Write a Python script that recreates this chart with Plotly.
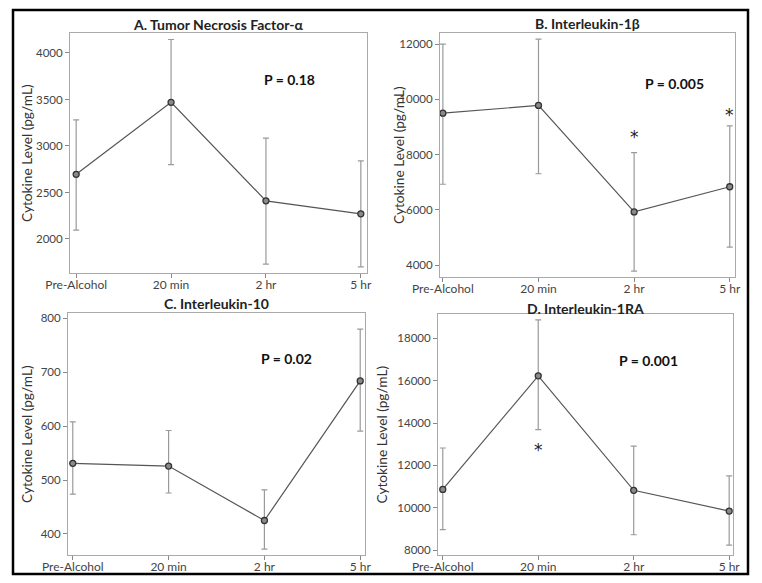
import plotly.graph_objects as go

W, H = 762, 583

categories = ["Pre-Alcohol", "20 min", "2 hr", "5 hr"]

titles = ["A. Tumor Necrosis Factor-α", "B. Interleukin-1β", "C. Interleukin-10", "D. Interleukin-1RA"]
p_labels = ["P = 0.18", "P = 0.005", "P = 0.02", "P = 0.001"]

tnf_mean = [2695, 3470, 2410, 2270]
tnf_low = [2095, 2800, 1730, 1700]
tnf_high = [3280, 4145, 3085, 2840]

il1b_mean = [9500, 9780, 5930, 6840]
il1b_low = [6930, 7310, 3790, 4660]
il1b_high = [12000, 12180, 8075, 9040]

il10_mean = [531, 526, 425, 684]
il10_low = [474, 476, 372, 591]
il10_high = [608, 592, 482, 780]

il1ra_mean = [10860, 16230, 10820, 9840]
il1ra_low = [8960, 13690, 8720, 8235]
il1ra_high = [12820, 18870, 12910, 11500]

y_ranges = [[1634, 4215], [3577, 12400], [361, 810], [7764, 19150]]
y_ticks = [[2000, 2500, 3000, 3500, 4000],
           [4000, 6000, 8000, 10000, 12000],
           [400, 500, 600, 700, 800],
           [8000, 10000, 12000, 14000, 16000, 18000]]
x_ranges = [[-0.065, 3.065], [-0.03, 3.055], [-0.05, 3.05], [-0.05, 3.04]]

p_pos = [(2.25, 3717), (2.42, 10590), (2.23, 726), (2.15, 16945)]

star_x = [[], [2, 3], [], [1]]
star_y = [[], [8650, 9440], [], [12720]]

# pixel boxes of plot areas: (left, top, right, bottom)
boxes = [(70, 33, 367, 273), (440, 33, 735, 277), (68, 313, 365, 555), (438, 314, 733, 555)]
ytitle_x = [26, 398, 26, 381]
title_y = [24, 23.5, 303, 308]

series = [(tnf_mean, tnf_low, tnf_high), (il1b_mean, il1b_low, il1b_high),
          (il10_mean, il10_low, il10_high), (il1ra_mean, il1ra_low, il1ra_high)]

fig = go.Figure()
FONT = "Lato, Open Sans, sans-serif"
annotations = []
for i, (mean, low, high) in enumerate(series):
    xa = "x" if i == 0 else f"x{i+1}"
    ya = "y" if i == 0 else f"y{i+1}"
    xs = list(range(len(categories)))
    fig.add_trace(go.Scatter(
        x=xs, y=mean, xaxis=xa, yaxis=ya, mode="lines+markers",
        line=dict(color="#555555", width=1.2),
        marker=dict(symbol="circle", size=6, color="#8a8a8a", line=dict(color="#333333", width=1.3)),
        error_y=dict(type="data", symmetric=False,
                     array=[h - m for h, m in zip(high, mean)],
                     arrayminus=[m - l for m, l in zip(mean, low)],
                     color="#9a9a9a", thickness=1.2, width=3),
        showlegend=False, hoverinfo="skip", cliponaxis=False))
    l, t, r, b = boxes[i]
    dx = [l / W, r / W]
    dy = [1 - b / H, 1 - t / H]
    axcommon = dict(showgrid=False, zeroline=False, showline=True, linecolor="#aaaaaa",
                    linewidth=1, mirror=True, ticks="outside", ticklen=4, tickcolor="#888888",
                    automargin=False)
    xkey = "xaxis" if i == 0 else f"xaxis{i+1}"
    ykey = "yaxis" if i == 0 else f"yaxis{i+1}"
    fig.update_layout(**{
        xkey: dict(domain=dx, anchor=ya, range=x_ranges[i], tickvals=xs, ticktext=categories,
                   ticklabelstandoff=-3,
                   tickfont=dict(family=FONT, size=12, color="#444444"), **axcommon),
        ykey: dict(domain=dy, anchor=xa, range=y_ranges[i], tickvals=y_ticks[i],
                   ticktext=[str(v) for v in y_ticks[i]],
                   tickfont=dict(family=FONT, size=11.5, color="#444444"), **axcommon),
    })
    # panel title
    annotations.append(dict(x=(l + r) / 2 / W, y=1 - title_y[i] / H, xref="paper", yref="paper",
                            text=f"<b>{titles[i]}</b>", showarrow=False, xanchor="center", yanchor="middle",
                            font=dict(family=FONT, size=14, color="#222222")))
    # y axis title
    annotations.append(dict(x=ytitle_x[i] / W, y=1 - (t + b) / 2 / H, xref="paper", yref="paper",
                            text="Cytokine Level (pg/mL)", textangle=-90, showarrow=False,
                            xanchor="center", yanchor="middle",
                            font=dict(family=FONT, size=13.7, color="#333333")))
    # p value
    annotations.append(dict(x=p_pos[i][0], y=p_pos[i][1], xref=xa, yref=ya,
                            text=f"<b>{p_labels[i]}</b>", showarrow=False,
                            font=dict(family=FONT, size=14, color="#111111")))
    for sx, sy in zip(star_x[i], star_y[i]):
        annotations.append(dict(x=sx, y=sy, xref=xa, yref=ya, text="*", showarrow=False,
                                font=dict(family="DejaVu Sans", size=17, color="#222222")))

fig.update_layout(
    width=W, height=H, margin=dict(l=0, r=0, t=0, b=0, autoexpand=False),
    paper_bgcolor="white", plot_bgcolor="white",
    annotations=annotations,
    shapes=[dict(type="rect", xref="paper", yref="paper",
                 x0=13 / W, x1=748 / W, y0=1 - 574 / H, y1=1 - 10 / H,
                 line=dict(color="black", width=2.5))],
)

fig.write_html("out.html", config={"displayModeBar": False},
               post_script="document.body.style.margin='0';")
